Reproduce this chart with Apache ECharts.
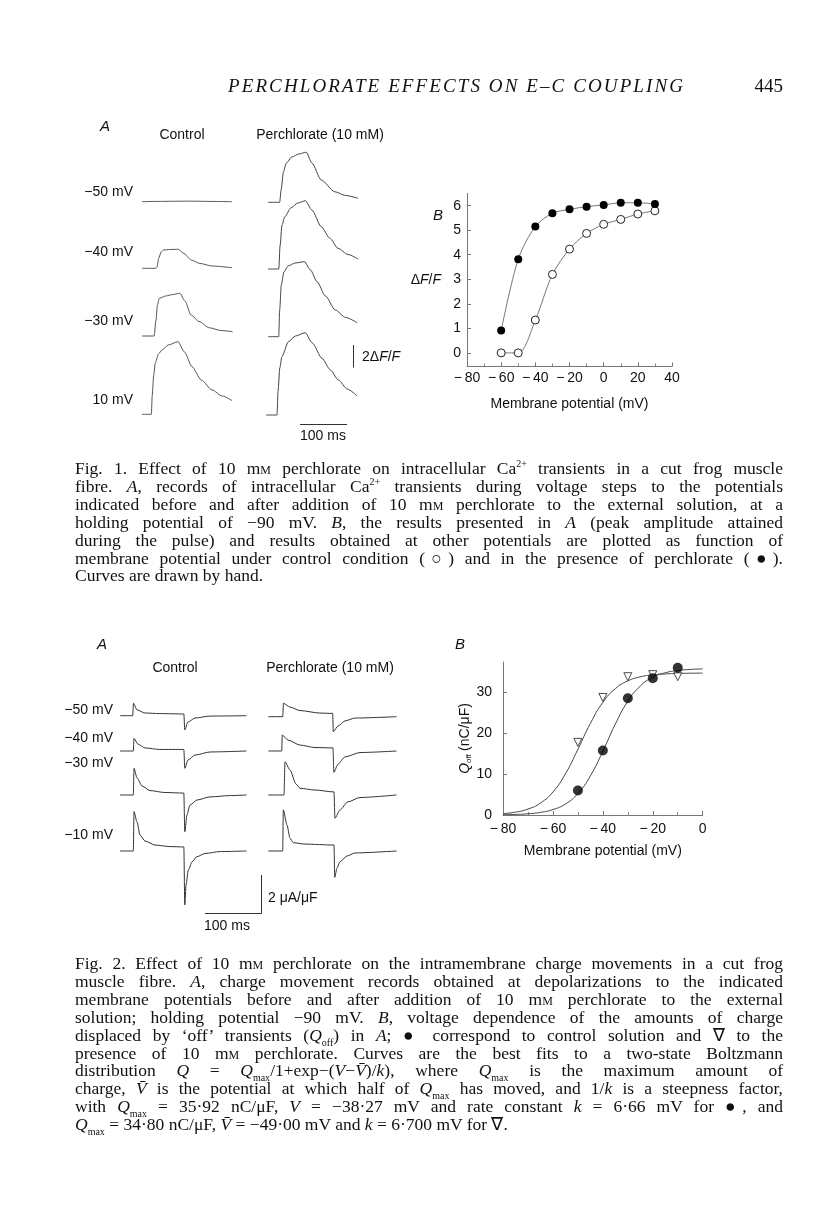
<!DOCTYPE html>
<html>
<head>
<meta charset="utf-8">
<script src="https://cdn.jsdelivr.net/npm/echarts@6/dist/echarts.min.js"></script>
<style>
  html,body{margin:0;padding:0;background:#fff;}
  #page{position:relative;width:816px;height:1208px;overflow:hidden;background:#fff;}
  #chart{position:absolute;left:0;top:0;width:816px;height:1208px;}
  .ln{position:absolute;left:75px;width:708px;font-family:"Liberation Serif",serif;font-size:17.5px;line-height:18px;height:18px;color:#111;text-align:justify;text-align-last:justify;}
  .ln.last{text-align:left;text-align-last:left;}
  .sc{font-variant:small-caps;}
  .hdr{position:absolute;font-family:"Liberation Serif",serif;font-size:19px;line-height:20px;color:#111;}
  sub,sup{font-size:10px;line-height:0;}
</style>
</head>
<body>
<div id="page">
<div id="chart"></div>
<div class="hdr" style="left:228px;top:76px;font-style:italic;letter-spacing:2.1px;">PERCHLORATE EFFECTS ON E–C COUPLING</div>
<div class="hdr" style="left:733px;top:76px;width:50px;text-align:right;">445</div>
<div id="cap1"></div>
<div id="cap2"></div>
</div>
<script>
// ---------------- DATA ----------------
// Fig. 1A: Ca transients, [time (ms), ΔF/F]
const f1RowLabels = ['\u221250 mV', '\u221240 mV', '\u221230 mV', '10 mV'];
const f1ControlTraces = [
  [[0,0],[40,0.03],[100,0.05],[160,0.02],[193,0]],
  [[0,0],[29,0],[32,0.1],[36,0.94],[41,1.48],[46,1.66],[60,1.71],[78,1.73],[88,1.39],[106,0.75],[124,0.44],[150,0.21],[193,0.05]],
  [[0,0],[26,0],[30,1.45],[33,2.8],[37,3.43],[51,3.64],[66,3.77],[81,3.88],[92,3.18],[105,1.91],[122,1.32],[144,0.75],[169,0.5],[194,0.39]],
  [[0,0],[20,0],[22,1.75],[25,3.57],[28.5,4.66],[35,5.48],[43,5.85],[56,6.3],[77,6.6],[91,5.66],[107,4.33],[127,3.12],[150,2.21],[172,1.66],[193,1.24]]
];
const f1PerchTraces = [
  [[0,0],[25,0],[28,1.12],[33,2.75],[39,3.55],[51,4.12],[66,4.39],[82,4.55],[94,3.57],[114,2.03],[143,0.96],[166,0.62],[193,0.36]],
  [[0,0],[23,0],[26,2.18],[30,4.0],[36,4.75],[49,5.55],[64,6.0],[80,6.21],[94,5.36],[114,3.85],[132,2.82],[150,1.88],[171,1.32],[193,0.91]],
  [[0,0],[23,0],[25,2.43],[28.5,4.7],[34,5.88],[43,6.43],[58,6.7],[78,6.82],[91,6.06],[105,5.0],[123,3.7],[144,2.43],[166,1.75],[191,1.27]],
  [[0,0],[23.5,0],[26,2.27],[29.5,4.27],[34,5.3],[48,6.66],[63,7.18],[84,7.48],[99,6.55],[120,5.15],[138,4.09],[155,3.18],[174,2.36],[195,1.73]]
];
// Fig. 1B: peak ΔF/F vs membrane potential
const f1BVoltage = [-60,-50,-40,-30,-20,-10,0,10,20,30];
const f1BPerchlorate = [0.91,3.82,5.15,5.69,5.85,5.96,6.03,6.12,6.12,6.07];
const f1BControl = [0.0,0.0,1.34,3.2,4.23,4.87,5.24,5.44,5.66,5.79];
const f1BXTicks = [-80,-60,-40,-20,0,20,40];
const f1BYTicks = [0,1,2,3,4,5,6];

// Fig. 2A: charge movement currents, [time (ms), µA/µF]
const f2RowLabels = ['\u221250 mV', '\u221240 mV', '\u221230 mV', '\u221210 mV'];
const f2ControlTraces = [
  [[0,0],[22.7,0],[24.1,0.65],[30.4,0.3],[44.6,0.14],[71,0.11],[114,0.09],[115.7,-0.74],[121.4,-0.33],[134,-0.12],[161,-0.02],[226,0]],
  [[0,0],[23.8,0],[25,0.66],[32,0.36],[44.6,0.16],[71,0.08],[114,0.08],[115.7,-0.9],[121.4,-0.47],[134,-0.21],[161,-0.05],[226,0]],
  [[0,0],[23.8,0],[25,1.39],[30.4,0.89],[39.3,0.47],[53.6,0.23],[80,0.13],[114,0.1],[115.7,-1.91],[119.6,-1.04],[125,-0.52],[137.5,-0.26],[160.7,-0.1],[196,-0.03],[226,0]],
  [[0,0],[23.8,0],[25,2.05],[30.4,1.51],[35.7,0.83],[44.6,0.52],[62.5,0.31],[89,0.23],[114,0.21],[115.7,-2.81],[117.9,-1.77],[122,-0.99],[128.6,-0.57],[137,-0.3],[151.8,-0.13],[178.6,-0.03],[226,0]]
];
const f2PerchTraces = [
  [[0,0],[25.7,0],[27.1,0.7],[38.8,0.5],[56.6,0.32],[92.3,0.19],[115,0.17],[116,-0.78],[124.5,-0.48],[137,-0.22],[154.8,-0.07],[229,0]],
  [[0,0],[23.9,0],[25,0.83],[35.2,0.57],[56.6,0.31],[83.4,0.18],[115.5,0.16],[117,-1.11],[124.5,-0.68],[137,-0.31],[163.8,-0.08],[229,0]],
  [[0,0],[28,0],[29.8,1.73],[38.8,1.3],[49.5,0.57],[56.6,0.35],[83.4,0.26],[117.3,0.16],[119,-1.21],[128,-0.78],[142,-0.36],[163.8,-0.13],[229,0]],
  [[0,0],[25.7,0],[26.8,2.14],[33.4,1.35],[38.8,0.66],[44.6,0.43],[65.5,0.36],[117.3,0.31],[118.6,-1.37],[122.7,-0.89],[128,-0.56],[140.5,-0.26],[154.8,-0.1],[229,0]]
];
// Fig. 2B: Q_off vs membrane potential
const f2BVoltage = [-50,-40,-30,-20,-10];
const f2BControl = [6.0,15.8,28.6,33.5,36.1];
const f2BPerchlorate = [17.8,28.8,33.9,34.4,33.9];
const f2CurveVoltage = [-80,-75,-70,-65,-60,-55,-50,-45,-40,-35,-30,-25,-20,-15,-10,-5,0];
const f2CurveControl = [0.07,0.14,0.30,0.64,1.33,2.69,5.27,9.59,15.64,22.28,27.87,31.61,33.75,34.86,35.41,35.68,35.81];
const f2CurvePerchlorate = [0.34,0.70,1.45,2.93,5.64,10.09,16.10,22.45,27.60,30.97,32.87,33.86,34.35,34.58,34.70,34.75,34.78];
const f2BXTicks = [-80,-60,-40,-20,0];
const f2BYTicks = [0,10,20,30];

// ---------------- CAPTIONS (HTML text) ----------------
const mM = 'm<span class="sc">m</span>';
const cap1Lines = [
  'Fig. 1. Effect of 10 '+mM+' perchlorate on intracellular Ca<sup>2+</sup> transients in a cut frog muscle',
  'fibre. <i>A</i>, records of intracellular Ca<sup>2+</sup> transients during voltage steps to the potentials',
  'indicated before and after addition of 10 '+mM+' perchlorate to the external solution, at a',
  'holding potential of \u221290 mV. <i>B</i>, the results presented in <i>A</i> (peak amplitude attained',
  'during the pulse) and results obtained at other potentials are plotted as function of',
  'membrane potential under control condition (\u25CB) and in the presence of perchlorate (\u25CF).',
  'Curves are drawn by hand.'
];
const cap2Lines = [
  'Fig. 2. Effect of 10 '+mM+' perchlorate on the intramembrane charge movements in a cut frog',
  'muscle fibre. <i>A</i>, charge movement records obtained at depolarizations to the indicated',
  'membrane potentials before and after addition of 10 '+mM+' perchlorate to the external',
  'solution; holding potential \u221290 mV. <i>B</i>, voltage dependence of the amounts of charge',
  'displaced by \u2018off\u2019 transients (<i>Q</i><sub>off</sub>) in <i>A</i>; \u25CF correspond to control solution and \u2207 to the',
  'presence of 10 '+mM+' perchlorate. Curves are the best fits to a two-state Boltzmann',
  'distribution <i>Q</i> = <i>Q</i><sub>max</sub>/1+exp\u2212(<i>V</i>\u2212<i>V\u0304</i>)/<i>k</i>), where <i>Q</i><sub>max</sub> is the maximum amount of',
  'charge, <i>V\u0304</i> is the potential at which half of <i>Q</i><sub>max</sub> has moved, and 1/<i>k</i> is a steepness factor,',
  'with <i>Q</i><sub>max</sub> = 35\u00B792 nC/\u03BCF, <i>V</i> = \u221238\u00B727 mV and rate constant <i>k</i> = 6\u00B766 mV for \u25CF, and',
  '<i>Q</i><sub>max</sub> = 34\u00B780 nC/\u03BCF, <i>V\u0304</i> = \u221249\u00B700 mV and <i>k</i> = 6\u00B7700 mV for \u2207.'
];
function putCaption(id, lines, y0, dy){
  const host = document.getElementById(id);
  lines.forEach((l,i)=>{
    const d = document.createElement('div');
    d.className = 'ln' + (i===lines.length-1 ? ' last' : '');
    d.style.top = (y0 + i*dy - 9) + 'px';
    d.innerHTML = l;
    host.appendChild(d);
  });
}
putCaption('cap1', cap1Lines, 468, 17.9);
putCaption('cap2', cap2Lines, 963, 17.9);

// ---------------- CHART ----------------
const SANS = '"Liberation Sans", Arial, sans-serif';
const chart = echarts.init(document.getElementById('chart'), null, {renderer:'canvas'});

const grids = [], xAxes = [], yAxes = [], series = [];
function addTraceGrid(left, top, width, height, xmax, ymin, ymax, data, color){
  const gi = grids.length;
  grids.push({left:left, top:top, width:width, height:height, containLabel:false});
  xAxes.push({gridIndex:gi, type:'value', min:0, max:xmax, show:false});
  yAxes.push({gridIndex:gi, type:'value', min:ymin, max:ymax, show:false});
  series.push({type:'line', xAxisIndex:gi, yAxisIndex:gi, data:data, showSymbol:false, symbol:'none',
    smooth:0.25, smoothMonotone:'x', lineStyle:{color:color, width:1}, silent:true});
}

// Fig 1A layout (positions only)
const f1CtrlBase = [201.7, 268.3, 336, 414.3];
const f1PerBase = [202.3, 269, 336.7, 415];
const f1PerLeft = [268, 268, 268, 266];
f1ControlTraces.forEach((d,i)=> addTraceGrid(142, f1CtrlBase[i]-88, 93.4, 93.5, 200, -0.5, 8, d, '#555'));
f1PerchTraces.forEach((d,i)=> addTraceGrid(f1PerLeft[i], f1PerBase[i]-88, 93.4, 93.5, 200, -0.5, 8, d, '#444'));

// Fig 2A layout
const f2CtrlBase = [715.7, 751, 795, 851];
const f2PerBase = [716.7, 751, 795, 851];
f2ControlTraces.forEach((d,i)=> addTraceGrid(120, f2CtrlBase[i]-57.6, 128.8, 115.2, 230, -3, 3, d, '#333'));
f2PerchTraces.forEach((d,i)=> addTraceGrid(268.3, f2PerBase[i]-57.6, 128.8, 115.2, 230, -3, 3, d, '#333'));

const minus = v => v < 0 ? '\u2212\u2009' + Math.abs(v) : String(v);
const axisLineStyle = {color:'#777', width:1};

// Fig 1B
{
  const gi = grids.length;
  grids.push({left:467, top:193.4, width:205, height:173});
  xAxes.push({gridIndex:gi, type:'value', min:-80, max:40, interval:20,
    axisLine:{onZero:false, lineStyle:axisLineStyle},
    axisTick:{inside:true, length:4, lineStyle:axisLineStyle},
    minorTick:{show:true, splitNumber:2, length:3, lineStyle:{color:'#888'}},
    splitLine:{show:false},
    axisLabel:{color:'#111', fontFamily:SANS, fontSize:14, margin:5, formatter:minus, customValues:f1BXTicks},
    name:'Membrane potential (mV)', nameLocation:'middle', nameGap:31,
    nameTextStyle:{color:'#111', fontFamily:SANS, fontSize:14}});
  yAxes.push({gridIndex:gi, type:'value', min:-0.55, max:6.5,
    axisLine:{show:true, onZero:false, lineStyle:axisLineStyle},
    axisTick:{show:true, inside:true, length:4, lineStyle:axisLineStyle, customValues:f1BYTicks},
    splitLine:{show:false},
    axisLabel:{color:'#111', fontFamily:SANS, fontSize:14, margin:6, customValues:f1BYTicks},
    name:'{d|\u0394}{i|F}{d|/}{i|F}', nameLocation:'middle', nameRotate:0, nameGap:26,
    nameTextStyle:{rich:{d:{fontFamily:SANS, fontSize:14, color:'#111'}, i:{fontFamily:SANS, fontStyle:'italic', fontSize:14, color:'#111'}}}});
  series.push({type:'line', xAxisIndex:gi, yAxisIndex:gi, data:f1BVoltage.map((v,i)=>[v,f1BControl[i]]),
    smooth:0.3, symbol:'circle', symbolSize:8, lineStyle:{color:'#777', width:1},
    itemStyle:{color:'#fff', borderColor:'#222', borderWidth:1}, z:3});
  series.push({type:'line', xAxisIndex:gi, yAxisIndex:gi, data:f1BVoltage.map((v,i)=>[v,f1BPerchlorate[i]]),
    smooth:0.3, symbol:'circle', symbolSize:8, lineStyle:{color:'#777', width:1},
    itemStyle:{color:'#000', borderColor:'#000', borderWidth:0}, z:4});
}

// Fig 2B
{
  const gi = grids.length;
  grids.push({left:503, top:662, width:199.7, height:153});
  xAxes.push({gridIndex:gi, type:'value', min:-80, max:0, interval:20,
    axisLine:{onZero:false, lineStyle:axisLineStyle},
    axisTick:{inside:true, length:4, lineStyle:axisLineStyle},
    minorTick:{show:true, splitNumber:2, length:3, lineStyle:{color:'#888'}},
    splitLine:{show:false},
    axisLabel:{color:'#111', fontFamily:SANS, fontSize:14, margin:7, formatter:minus, customValues:f2BXTicks},
    name:'Membrane potential (mV)', nameLocation:'middle', nameGap:29,
    nameTextStyle:{color:'#111', fontFamily:SANS, fontSize:14}});
  yAxes.push({gridIndex:gi, type:'value', min:0, max:37.5,
    axisLine:{show:true, onZero:false, lineStyle:axisLineStyle},
    axisTick:{show:true, inside:true, length:4, lineStyle:axisLineStyle, customValues:f2BYTicks},
    splitLine:{show:false},
    axisLabel:{color:'#111', fontFamily:SANS, fontSize:14, margin:11, customValues:f2BYTicks},
    name:'{i|Q}{s|off} {d|(nC/\u03BCF)}', nameLocation:'middle', nameGap:30,
    nameTextStyle:{rich:{d:{fontFamily:SANS, fontSize:14, color:'#111'}, i:{fontFamily:SANS, fontStyle:'italic', fontSize:14, color:'#111'}, s:{fontFamily:SANS, fontSize:8, color:'#111', verticalAlign:'bottom', padding:[6,0,0,0]}}}});
  series.push({type:'line', xAxisIndex:gi, yAxisIndex:gi, data:f2CurveVoltage.map((v,i)=>[v,f2CurveControl[i]]),
    smooth:true, showSymbol:false, symbol:'none', lineStyle:{color:'#444', width:1}, z:2});
  series.push({type:'line', xAxisIndex:gi, yAxisIndex:gi, data:f2CurveVoltage.map((v,i)=>[v,f2CurvePerchlorate[i]]),
    smooth:true, showSymbol:false, symbol:'none', lineStyle:{color:'#444', width:1}, z:2});
  series.push({type:'scatter', xAxisIndex:gi, yAxisIndex:gi, data:f2BVoltage.map((v,i)=>[v,f2BPerchlorate[i]]),
    symbol:'triangle', symbolRotate:180, symbolSize:8, itemStyle:{color:'#fff', borderColor:'#222', borderWidth:1}, z:4});
  series.push({type:'scatter', xAxisIndex:gi, yAxisIndex:gi, data:f2BVoltage.map((v,i)=>[v,f2BControl[i]]),
    symbol:'circle', symbolSize:10, itemStyle:{color:'#000'}, z:5});
}

// ---------------- Annotations ----------------
const T = (x,y,text,o={}) => ({type:'text', x:x, y:y, silent:true, style:Object.assign({text:text, fill:'#111',
  font:(o.italic?'italic ':'') + (o.size||14) + 'px ' + SANS, textAlign:o.align||'left', textVerticalAlign:'middle'}, o.style||{})});
const L = (x1,y1,x2,y2) => ({type:'line', silent:true, shape:{x1:x1,y1:y1,x2:x2,y2:y2}, style:{stroke:'#333', lineWidth:1}});
const graphics = [
  // Fig 1
  T(100,127,'A',{italic:true, size:15}),
  T(182,135,'Control',{align:'center'}),
  T(320,135,'Perchlorate (10 mM)',{align:'center'}),
  T(433,216,'B',{italic:true, size:15}),
  L(353.5,345,353.5,367.5),
  T(362,357,'{d|2\u0394}{i|F}{d|/}{i|F}',{style:{rich:{d:{font:'14px '+SANS, fill:'#111'}, i:{font:'italic 14px '+SANS, fill:'#111'}}}}),
  L(300,424.5,347,424.5),
  T(323,436,'100 ms',{align:'center'}),
  // Fig 2
  T(97,645,'A',{italic:true, size:15}),
  T(175,668,'Control',{align:'center'}),
  T(330,668,'Perchlorate (10 mM)',{align:'center'}),
  T(455,645,'B',{italic:true, size:15}),
  L(261.5,875,261.5,913.5),
  L(205,913.5,261.5,913.5),
  T(268,898,'2 \u03BCA/\u03BCF'),
  T(227,926,'100 ms',{align:'center'})
];
const f1RowY = [192, 252, 321, 400];
f1RowLabels.forEach((t,i)=> graphics.push(T(133, f1RowY[i], t, {align:'right'})));
const f2RowY = [710, 738, 763, 835];
f2RowLabels.forEach((t,i)=> graphics.push(T(113, f2RowY[i], t, {align:'right'})));

chart.setOption({
  backgroundColor:'#fff',
  animation:false,
  grid:grids, xAxis:xAxes, yAxis:yAxes, series:series,
  graphic:{elements:graphics}
});
</script>
</body>
</html>
